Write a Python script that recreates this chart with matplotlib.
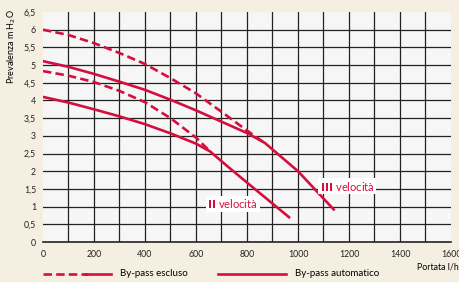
import matplotlib
matplotlib.use("Agg")
import matplotlib.pyplot as plt
from matplotlib.lines import Line2D

# ================= DATA =================
# III velocita, by-pass escluso (dashed) / automatico (solid)
q3_excl = [0, 100, 200, 300, 400, 500, 600, 700, 800, 865]
h3_excl = [6.0, 5.85, 5.62, 5.34, 5.03, 4.63, 4.2, 3.68, 3.15, 2.82]
q3_auto = [0, 100, 200, 300, 400, 500, 600, 700, 800, 870, 1000, 1140]
h3_auto = [5.11, 4.95, 4.75, 4.53, 4.3, 4.02, 3.72, 3.4, 3.08, 2.8, 2.0, 0.92]

# II velocita
q2_excl = [0, 100, 200, 300, 400, 500, 600, 655]
h2_excl = [4.83, 4.7, 4.52, 4.27, 3.95, 3.5, 2.95, 2.56]
q2_auto = [0, 100, 200, 300, 400, 500, 600, 655, 730, 800, 965]
h2_auto = [4.1, 3.94, 3.75, 3.55, 3.33, 3.07, 2.78, 2.56, 2.1, 1.68, 0.7]

x_ticks = [0, 200, 400, 600, 800, 1000, 1200, 1400, 1600]
y_ticks = [0, 0.5, 1, 1.5, 2, 2.5, 3, 3.5, 4, 4.5, 5, 5.5, 6, 6.5]
y_labels = ["0", "0,5", "1", "1,5", "2", "2,5", "3", "3,5", "4", "4,5", "5", "5,5", "6", "6,5"]

# ================= STYLE =================
RED = "#d40f3e"
BG = "#f5efe1"
plt.rcParams["font.family"] = ["Lato", "DejaVu Sans"]

fig = plt.figure(figsize=(4.6, 2.82), dpi=100, facecolor=BG)
ax = fig.add_axes([43 / 460, 40 / 282, 408 / 460, 230 / 282])
ax.set_facecolor("#f6f6f6")

# grid
for gx in range(100, 1600, 100):
    ax.axvline(gx, color="#222222", lw=0.9, zorder=1)
for gy in [v / 2 for v in range(1, 13)]:
    ax.axhline(gy, color="#222222", lw=0.9, zorder=1)

dash = dict(color=RED, lw=1.9, dashes=(3.2, 1.6), zorder=3, solid_capstyle="butt")
solid = dict(color=RED, lw=1.9, zorder=3)

ax.plot(q3_excl, h3_excl, **dash)
ax.plot(q3_auto, h3_auto, **solid)
ax.plot(q2_excl, h2_excl, **dash)
ax.plot(q2_auto, h2_auto, **solid)

ax.set_xlim(0, 1600)
ax.set_ylim(0, 6.5)
ax.set_xticks(x_ticks)
ax.set_yticks(y_ticks)
ax.set_yticklabels(y_labels)
ax.tick_params(length=0, labelsize=6.3, colors="#222222", pad=6)
ax.tick_params(axis="y", pad=5)

for s in ["top", "right", "left"]:
    ax.spines[s].set_visible(False)
ax.spines["bottom"].set_color("#222222")
ax.spines["bottom"].set_linewidth(1.2)

ax.set_ylabel("Prevalenza m H$_2$O", fontsize=6.5)
ax.yaxis.set_label_coords(-0.062, 0.85)

# curve labels
box = dict(boxstyle="square,pad=0.15", fc="white", ec="none")
ax.text(645, 0.95, r"$\mathbf{II}$ velocità", color=RED, fontsize=8, bbox=box, zorder=4)
ax.text(1085, 1.45, r"$\mathbf{III}$ velocità", color=RED, fontsize=8, bbox=box, zorder=4)

fig.text(459 / 460, 1 - 267 / 282, "Portata l/h", fontsize=6.3, va="center", ha="right")

# legend
ly = 1 - 274 / 282
fig.add_artist(Line2D([43 / 460, 88 / 460], [ly, ly], transform=fig.transFigure,
                      color=RED, lw=1.9, dashes=(3.2, 1.6)))
fig.add_artist(Line2D([85 / 460, 111 / 460], [ly, ly], transform=fig.transFigure,
                      color=RED, lw=1.9))
fig.text(120 / 460, ly, "By-pass escluso", fontsize=7, va="center")
fig.add_artist(Line2D([218 / 460, 286 / 460], [ly, ly], transform=fig.transFigure,
                      color=RED, lw=1.9))
fig.text(295 / 460, ly, "By-pass automatico", fontsize=7, va="center")

fig.savefig("out.png", dpi=100, facecolor=BG)
